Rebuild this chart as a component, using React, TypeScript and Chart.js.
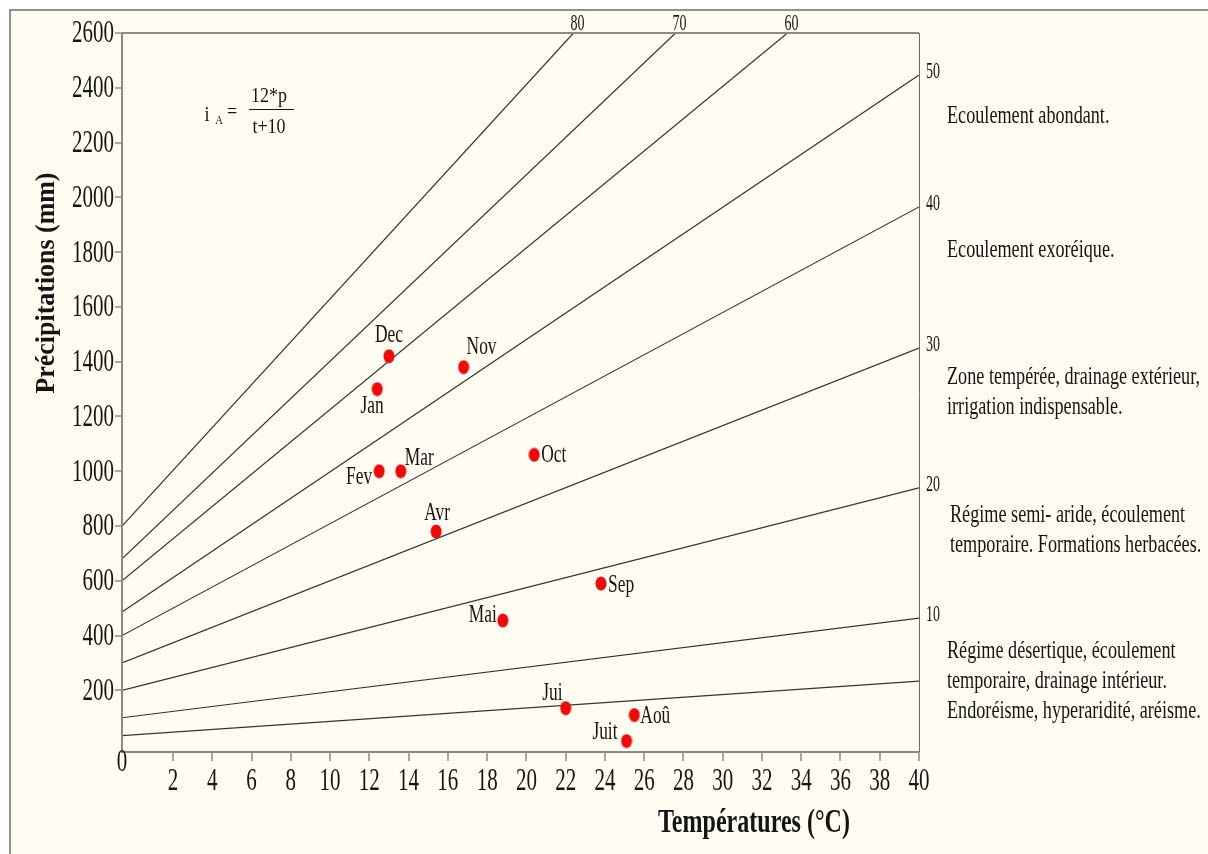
import { useEffect, useRef } from 'react';
import { Chart, registerables } from 'chart.js';

Chart.register(...registerables);

// ---- Data ----
const months = ['Jan', 'Fev', 'Mar', 'Avr', 'Mai', 'Jui', 'Juit', 'Aoû', 'Sep', 'Oct', 'Nov', 'Dec'];
const temperatures = [12.4, 12.5, 13.6, 15.4, 18.8, 22.0, 25.1, 25.5, 23.8, 20.4, 16.8, 13.0];
const precipitations = [1300, 1000, 1000, 780, 455, 135, 15, 110, 590, 1060, 1380, 1420];

// aridity-index iso-lines (start at the left axis, end at the top or right edge)
const indexLabels = ['80', '70', '60', '50', '40', '30', '20', '10', ''];
const lineStartP = [800, 680, 600, 486, 400, 300, 200, 100, 35];
const lineEndT = [22.4, 27.6, 33.3, 40, 40, 40, 40, 40, 40];
const lineEndP = [2600, 2600, 2600, 2447, 1965, 1450, 939, 464, 234];

const xTickValues = [2, 4, 6, 8, 10, 12, 14, 16, 18, 20, 22, 24, 26, 28, 30, 32, 34, 36, 38, 40];
const yTickValues = [200, 400, 600, 800, 1000, 1200, 1400, 1600, 1800, 2000, 2200, 2400, 2600];

const X_MIN = -0.6;
const X_MAX = 40;
const Y_MIN = -25;
const Y_MAX = 2600;

const zoneTexts: string[][] = [
  ['Ecoulement abondant.'],
  ['Ecoulement exoréique.'],
  ['Zone tempérée, drainage extérieur,', 'irrigation indispensable.'],
  ['Régime semi- aride, écoulement', 'temporaire. Formations herbacées.'],
  ['Régime désertique, écoulement', 'temporaire, drainage intérieur.', 'Endoréisme, hyperaridité, aréisme.'],
];

// ---- Layout (pixels) ----
const zoneTextTop = [116, 250, 377, 515, 651];
const zoneTextLeft = [947, 947, 947, 950, 947];
const zoneLineGap = 30;

const monthLabelOffsets: [number, number, 'left' | 'right' | 'center'][] = [
  [-5, 17, 'center'],
  [-7, 6, 'right'],
  [4, -13, 'left'],
  [1, -18, 'center'],
  [-6, -5, 'right'],
  [-3, -15, 'right'],
  [-9, -9, 'right'],
  [6, 1, 'left'],
  [7, 2, 'left'],
  [7, 1, 'left'],
  [3, -20, 'left'],
  [0, -21, 'center'],
];

const FONT = '"Liberation Serif", "Times New Roman", serif';
const TEXT = '#141414';

function fontStr(size: number, bold = false) {
  return `${bold ? 'bold ' : ''}${size}px ${FONT}`;
}

function sxFor(ctx: CanvasRenderingContext2D, s: string, size: number, bold: boolean, target: number) {
  ctx.save();
  ctx.font = fontStr(size, bold);
  const w = ctx.measureText(s).width;
  ctx.restore();
  return target / w;
}

function drawText(
  ctx: CanvasRenderingContext2D,
  s: string,
  x: number,
  y: number,
  size: number,
  sx: number,
  align: 'left' | 'right' | 'center' = 'left',
  bold = false,
  rotate = 0
) {
  ctx.save();
  ctx.font = fontStr(size, bold);
  ctx.fillStyle = TEXT;
  ctx.textBaseline = 'middle';
  ctx.textAlign = align;
  ctx.translate(x, y);
  if (rotate) ctx.rotate(rotate);
  ctx.scale(sx, 1);
  ctx.fillText(s, 0, 0);
  ctx.restore();
}

const decorPlugin = {
  id: 'decor',
  beforeDraw(chart: any) {
    const ctx: CanvasRenderingContext2D = chart.ctx;
    ctx.save();
    ctx.fillStyle = '#ffffff';
    ctx.fillRect(0, 0, chart.width, chart.height);
    ctx.fillStyle = '#fffdf2';
    ctx.fillRect(10, 10, chart.width, chart.height);
    ctx.strokeStyle = '#6e6e6e';
    ctx.lineWidth = 1.5;
    ctx.beginPath();
    ctx.moveTo(10, chart.height);
    ctx.lineTo(10, 10);
    ctx.lineTo(chart.width, 10);
    ctx.stroke();
    ctx.restore();
  },
  afterDraw(chart: any) {
    const ctx: CanvasRenderingContext2D = chart.ctx;
    const xs = chart.scales.x;
    const ys = chart.scales.y;
    const a = chart.chartArea;

    ctx.save();
    // plot frame
    ctx.strokeStyle = '#8a8a8a';
    ctx.lineWidth = 2;
    ctx.beginPath();
    ctx.moveTo(a.left, a.top);
    ctx.lineTo(a.left, a.bottom);
    ctx.lineTo(a.right, a.bottom);
    ctx.moveTo(a.left, a.top);
    ctx.lineTo(a.right, a.top);
    ctx.stroke();
    ctx.strokeStyle = '#6a6a6a';
    ctx.lineWidth = 1;
    ctx.beginPath();
    ctx.moveTo(a.right + 0.5, a.top);
    ctx.lineTo(a.right + 0.5, a.bottom);
    ctx.stroke();

    // tick marks
    ctx.strokeStyle = '#8a8a8a';
    ctx.lineWidth = 1.5;
    ctx.beginPath();
    yTickValues.forEach((v) => {
      const y = Math.round(ys.getPixelForValue(v));
      ctx.moveTo(a.left - 7, y);
      ctx.lineTo(a.left, y);
    });
    xTickValues.forEach((v) => {
      const x = Math.round(xs.getPixelForValue(v));
      ctx.moveTo(x, a.bottom);
      ctx.lineTo(x, a.bottom + 9);
    });
    ctx.stroke();
    ctx.restore();

    // tick labels
    const tickSize = 32;
    const tickSx = sxFor(ctx, '1600', tickSize, false, 42);
    yTickValues.forEach((v) => {
      drawText(ctx, String(v), a.left - 8, ys.getPixelForValue(v) + 1, tickSize, tickSx, 'right');
    });
    xTickValues.forEach((v) => {
      drawText(ctx, String(v), xs.getPixelForValue(v), a.bottom + 30, tickSize, tickSx, 'center');
    });
    drawText(ctx, '0', a.left, a.bottom + 11, tickSize, tickSx, 'center');

    // axis titles
    const xt = 'Températures (°C)';
    const xtSx = sxFor(ctx, xt, 34, true, 192);
    drawText(ctx, xt, 754, 823, 34, xtSx, 'center', true);
    const yt = 'Précipitations (mm)';
    const ytSx = sxFor(ctx, yt, 28, true, 221);
    drawText(ctx, yt, 47, 283, 28, ytSx, 'center', true, -Math.PI / 2);

    // formula
    const fSx = sxFor(ctx, '12*p', 22, false, 36);
    drawText(ctx, 'i', 207, 115, 22, fSx, 'center');
    drawText(ctx, 'A', 219, 121, 13, fSx, 'center');
    drawText(ctx, '=', 232, 112, 22, fSx, 'center');
    drawText(ctx, '12*p', 269, 96, 22, fSx, 'center');
    drawText(ctx, 't+10', 269, 127, 22, fSx, 'center');
    ctx.save();
    ctx.strokeStyle = TEXT;
    ctx.lineWidth = 1;
    ctx.beginPath();
    ctx.moveTo(249, 109.5);
    ctx.lineTo(294, 109.5);
    ctx.stroke();
    ctx.restore();

    // index labels
    const idxSize = 24;
    const idxSx = sxFor(ctx, '50', idxSize, false, 14);
    indexLabels.forEach((lab, i) => {
      if (!lab) return;
      if (lineEndP[i] >= Y_MAX) {
        drawText(ctx, lab, xs.getPixelForValue(lineEndT[i]) + 4, a.top - 9, idxSize, idxSx, 'center');
      } else {
        drawText(ctx, lab, a.right + 7, ys.getPixelForValue(lineEndP[i]) - 3, idxSize, idxSx, 'left');
      }
    });

    // month labels
    const meta = chart.getDatasetMeta(0);
    const mSx = sxFor(ctx, 'Dec', 25, false, 28);
    months.forEach((m, i) => {
      const el = meta.data[i];
      const [dx, dy, al] = monthLabelOffsets[i];
      drawText(ctx, m, el.x + dx, el.y + dy, 25, mSx, al);
    });

    // zone texts
    const zSx = sxFor(ctx, 'Zone tempérée, drainage extérieur,', 26, false, 253);
    zoneTexts.forEach((lines, k) => {
      lines.forEach((ln, j) => {
        drawText(ctx, ln, zoneTextLeft[k], zoneTextTop[k] + j * zoneLineGap, 26, zSx, 'left');
      });
    });
  },
};

export default function App() {
  const ref = useRef<HTMLCanvasElement | null>(null);

  useEffect(() => {
    document.body.style.margin = '0';
    const canvas = ref.current;
    if (!canvas) return;

    const dot = document.createElement('canvas');
    dot.width = 12;
    dot.height = 15;
    const dctx = dot.getContext('2d')!;
    dctx.fillStyle = '#ee0a0a';
    dctx.beginPath();
    dctx.ellipse(6, 7.5, 5.5, 7, 0, 0, Math.PI * 2);
    dctx.fill();

    const monthPoints = temperatures.map((t, i) => ({ x: t, y: precipitations[i] }));
    const lineSets = indexLabels.map((lab, i) => ({
      label: 'i=' + (lab || '5'),
      data: [
        { x: X_MIN, y: lineStartP[i] },
        { x: lineEndT[i], y: lineEndP[i] },
      ],
      showLine: true,
      borderColor: '#333333',
      borderWidth: 1.2,
      pointRadius: 0,
      fill: false,
    }));

    const chart = new Chart(canvas, {
      type: 'scatter',
      data: {
        datasets: [
          {
            label: 'Mois',
            data: monthPoints,
            pointStyle: dot as any,
            pointRadius: 7,
            backgroundColor: '#ee0a0a',
            borderWidth: 0,
          },
          ...lineSets,
        ] as any,
      },
      options: {
        animation: false,
        responsive: false,
        devicePixelRatio: 1,
        layout: { padding: { left: 122, top: 33, right: 289, bottom: 102 } },
        plugins: {
          legend: { display: false },
          tooltip: { enabled: false },
        },
        scales: {
          x: { type: 'linear', min: X_MIN, max: X_MAX, display: false },
          y: { type: 'linear', min: Y_MIN, max: Y_MAX, display: false },
        },
      },
      plugins: [decorPlugin],
    });
    return () => chart.destroy();
  }, []);

  return <canvas ref={ref} width={1208} height={854} style={{ display: 'block' }} />;
}
